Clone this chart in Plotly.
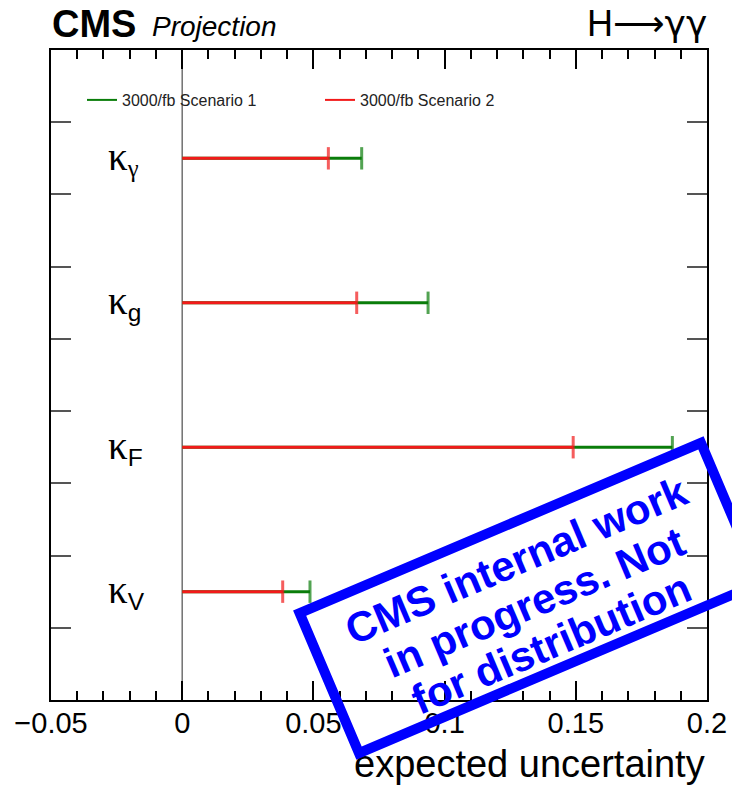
import math
import plotly.graph_objects as go

# Couplings (top to bottom) and their expected uncertainties
coupling_subs = ["γ", "g", "F", "V"]
y_pos = [7.5, 5.5, 3.5, 1.5]
scenario1 = [0.0684, 0.0937, 0.1868, 0.0487]   # 3000/fb Scenario 1
scenario2 = [0.0557, 0.0665, 0.1490, 0.0383]   # 3000/fb Scenario 2
series_names = ["3000/fb Scenario 1", "3000/fb Scenario 2"]
x_ticks = [-0.05, 0, 0.05, 0.1, 0.15, 0.2]
x_tick_text = ["\u22120.05", "0", "0.05", "0.1", "0.15", "0.2"]
stamp_lines = ["CMS internal work", "in progress. Not", "for distribution"]

GREEN = "#0a7d0a"
RED = "#f21a1a"
BLUE = "#0000ff"
SANS = "Liberation Sans, Arial, Helvetica, sans-serif"
SERIF = "Liberation Serif, Times New Roman, serif"

W, H = 732, 787
ML, MR, MT, MB = 51, 25, 50, 87
PW, PH = W - ML - MR, H - MT - MB


def px(xp):
    return (xp - ML) / PW


def py(yp):
    return (H - MB - yp) / PH


fig = go.Figure()

# Bars: a line from zero to the value, with an end cap marker
for vals, color in ((scenario1, GREEN), (scenario2, RED)):
    for v, y in zip(vals, y_pos):
        fig.add_trace(go.Scatter(
            x=[0, v], y=[y, y], mode="lines+markers",
            line=dict(color=color, width=3),
            marker=dict(symbol="line-ns", size=[0, 16],
                        line=dict(color=color, width=3)),
            showlegend=False, hoverinfo="skip"))

# Legend entries
for name, color in zip(series_names, (GREEN, RED)):
    fig.add_trace(go.Scatter(x=[None], y=[None], mode="lines", name=name,
                             line=dict(color=color, width=2)))

# Zero reference line
fig.add_shape(type="line", xref="x", yref="y", x0=0, x1=0, y0=0, y1=9,
              line=dict(color="#707070", width=1.5), layer="below")

annotations = []
# Coupling labels
for sub, y in zip(coupling_subs, y_pos):
    sub_txt = f"<span style='font-family:{SERIF}'>{sub}</span>" if sub == "γ" else sub
    text = (f"<span style='font-family:{SERIF};font-size:39px'>κ</span>"
            f"<sub>{sub_txt}</sub>")
    annotations.append(dict(
        xref="x", yref="y", x=-0.0289, y=y, xanchor="left", yanchor="middle",
        text=text, showarrow=False, font=dict(family=SANS, size=35, color="black")))

# Header texts
annotations += [
    dict(xref="paper", yref="paper", x=px(50), y=py(47), xanchor="left", yanchor="bottom",
         text="<b>CMS</b>", showarrow=False, font=dict(family=SANS, size=38, color="black")),
    dict(xref="paper", yref="paper", x=px(150), y=py(44), xanchor="left", yanchor="bottom",
         text="<i>Projection</i>", showarrow=False, font=dict(family=SANS, size=28, color="black")),
    dict(xref="paper", yref="paper", x=px(709), y=py(46), xanchor="right", yanchor="bottom",
         text="H<span style='font-family:DejaVu Sans'>⟶γγ</span>",
         showarrow=False, font=dict(family=SANS, size=36, color="black")),
    dict(xref="paper", yref="paper", x=px(707), y=py(741), xanchor="right", yanchor="top",
         text="expected uncertainty", showarrow=False,
         font=dict(family=SANS, size=38, color="black")),
]

# Stamp: rotated frame plus three rotated text lines
ANG = 23.0
cx, cy = 530, 598
annotations.append(dict(
    xref="paper", yref="paper", x=px(cx), y=py(cy), xanchor="center", yanchor="middle",
    text=" ", showarrow=False, textangle=-ANG,
    width=426, height=142, borderwidth=10, borderpad=0, bordercolor=BLUE,
    font=dict(family=SANS, size=10, color=BLUE)))
nx, ny = math.sin(math.radians(ANG)), math.cos(math.radians(ANG))
spacing = 45
for i, line in enumerate(stamp_lines):
    off = (i - 1) * spacing
    annotations.append(dict(
        xref="paper", yref="paper", x=px(cx + 4 + off * nx), y=py(cy + 4 + off * ny),
        xanchor="center", yanchor="middle", text=f"<b>{line}</b>", showarrow=False,
        textangle=-ANG, font=dict(family=SANS, size=42, color=BLUE)))

fig.update_layout(
    width=W, height=H,
    margin=dict(l=ML, r=MR, t=MT, b=MB, autoexpand=False),
    paper_bgcolor="white", plot_bgcolor="white",
    annotations=annotations,
    showlegend=True,
    legend=dict(orientation="h", x=px(82), y=py(100), xanchor="left", yanchor="middle",
                font=dict(family=SANS, size=16, color="#222"),
                entrywidth=193, entrywidthmode="pixels",
                bgcolor="rgba(0,0,0,0)", itemclick=False),
    xaxis=dict(range=[-0.05, 0.2], tickvals=x_ticks, ticktext=x_tick_text,
               ticks="inside", ticklen=19, tickwidth=1.5, tickcolor="black",
               ticklabelstandoff=-4,
               minor=dict(dtick=0.01, ticklen=9, tickwidth=1.5, tickcolor="black", ticks="inside"),
               showline=True, linecolor="black", linewidth=2, mirror="allticks",
               showgrid=False, zeroline=False,
               tickfont=dict(family=SANS, size=29, color="black")),
    yaxis=dict(range=[0, 9], tickvals=list(range(1, 9)), showticklabels=False,
               ticks="inside", ticklen=20, tickwidth=1.5, tickcolor="#555",
               showline=True, linecolor="black", linewidth=2, mirror="allticks",
               showgrid=False, zeroline=False),
)

fig.write_html("out.html")
